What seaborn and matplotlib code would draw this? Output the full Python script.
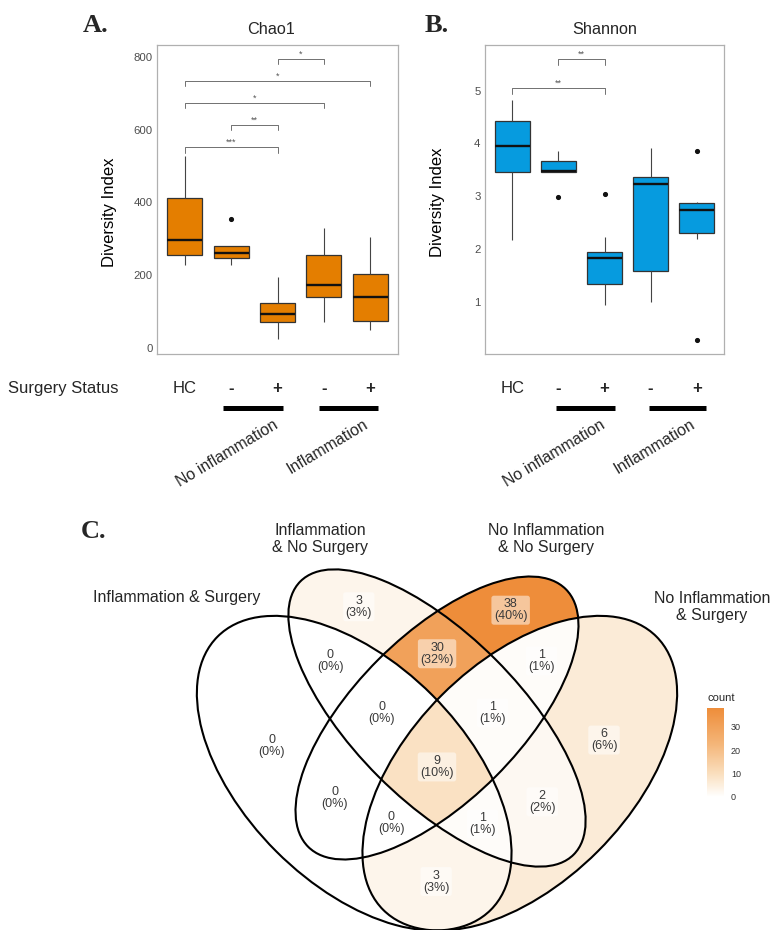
import numpy as np
import pandas as pd
import seaborn as sns
import matplotlib
matplotlib.use("Agg")
import matplotlib.pyplot as plt
from matplotlib import transforms
from matplotlib.patches import Ellipse
from matplotlib.colors import LinearSegmentedColormap, Normalize

sns.set_theme(style="white")
plt.rcParams['font.family'] = ['Liberation Sans', 'DejaVu Sans']

"""
Data
"""
groups = ["HC", "NoInf_NoSurg", "NoInf_Surg", "Inf_NoSurg", "Inf_Surg"]
surgery_labels = ["HC", "-", "+", "-", "+"]
status_labels = ["No inflammation", "Inflammation"]

chao1_hc = [228, 245, 256, 280, 297, 350, 413, 470, 527]
chao1_noinf_nosurg = [228, 240, 247, 255, 261, 270, 282, 282, 356]
chao1_noinf_surg = [25, 60, 73, 85, 93, 110, 124, 160, 196]
chao1_inf_nosurg = [72, 120, 142, 160, 173, 220, 255, 300, 331]
chao1_inf_surg = [50, 65, 75, 110, 142, 180, 205, 260, 306]

shannon_hc = [2.17, 3.2, 3.45, 3.7, 3.96, 4.2, 4.42, 4.6, 4.82]
shannon_noinf_nosurg = [2.99, 3.46, 3.46, 3.47, 3.48, 3.6, 3.67, 3.75, 3.85]
shannon_noinf_surg = [0.94, 1.2, 1.34, 1.6, 1.82, 1.9, 1.94, 2.22, 3.05]
shannon_inf_nosurg = [1.0, 1.3, 1.58, 2.5, 3.23, 3.3, 3.37, 3.6, 3.91]
shannon_inf_surg = [0.27, 2.18, 2.31, 2.5, 2.74, 2.8, 2.87, 2.89, 3.86]

# significance brackets: group pairs, stars, bracket height
chao1_pairs = [(0, 2), (1, 2), (0, 3), (0, 4), (2, 3)]
chao1_stars = ["***", "**", "*", "*", "*"]
chao1_bracket_y = [552, 613, 673, 734, 794]
shannon_pairs = [(0, 2), (1, 2)]
shannon_stars = ["**", "**"]
shannon_bracket_y = [5.05, 5.6]

# venn
set_names = ["Inflammation & Surgery", "Inflammation\n& No Surgery",
             "No Inflammation\n& No Surgery", "No Inflammation\n& Surgery"]
region_sets = ["A", "B", "C", "D", "AB", "AC", "AD", "BC", "BD", "CD",
               "ABC", "ABD", "ACD", "BCD", "ABCD"]
region_counts = [0, 3, 38, 6, 0, 0, 3, 30, 2, 1, 0, 1, 0, 1, 9]

"""
Layout helpers (figure is 773 x 930 px)
"""
W, H = 773, 930
ORANGE = "#E47E00"
BLUE = "#069BDF"


def fx(px):
    return px / W


def fy(py):
    return 1 - py / H


fig = plt.figure(figsize=(W / 100, H / 100), dpi=100)
fig.patch.set_facecolor("white")


def box_panel(rect, values, color, ylim, yticks, title, title_x, pairs, stars, bracket_y, tip, ylabel_x, ylabel_y):
    ax = fig.add_axes(rect)
    df = pd.DataFrame({
        "group": np.repeat(groups, [len(v) for v in values]),
        "value": np.concatenate(values),
    })
    sns.boxplot(data=df, x="group", y="value", order=groups, color=color, saturation=1,
                width=0.75, linecolor="#333333", linewidth=0.9, whis=1.5, showcaps=False,
                medianprops=dict(color="#111111", linewidth=1.7),
                whiskerprops=dict(color="#444444", linewidth=0.8),
                flierprops=dict(marker="o", markerfacecolor="#111111", markeredgecolor="#111111",
                                markersize=2.7),
                ax=ax)
    ax.set_xlim(-0.6, 4.6)
    ax.set_ylim(*ylim)
    ax.set_yticks(yticks)
    ax.set_xticks([])
    ax.set_xlabel("")
    ax.set_ylabel("Diversity Index", fontsize=12, color="black")
    ax.yaxis.set_label_coords(ylabel_x, ylabel_y)
    ax.tick_params(axis="y", length=0, pad=3, labelsize=8.2, labelcolor="#4D4D4D")
    ax.grid(False)
    for s in ax.spines.values():
        s.set_color("#B0B0B0")
        s.set_linewidth(0.9)
    for (i, j), star, yb in zip(pairs, stars, bracket_y):
        ax.plot([i, i, j, j], [yb - tip, yb, yb, yb - tip], color="#707070", lw=0.7)
        ax.text((i + j) / 2, yb, star, ha="center", va="bottom", fontsize=6.5, color="#555555")
    fig.text(fx(title_x), fy(29), title, ha="center", va="center", fontsize=11.7)
    return ax


def group_annotations(ax, bar_spans):
    trans = transforms.blended_transform_factory(ax.transData, fig.transFigure)
    for i, lab in enumerate(surgery_labels):
        ax.text(i, fy(388), lab, transform=trans, ha="center", va="center", fontsize=12,
                fontweight="normal" if lab == "HC" else "bold", clip_on=False)
    for (x0, x1) in bar_spans:
        ax.plot([x0, x1], [fy(408), fy(408)], transform=trans, color="black", lw=3.6,
                solid_capstyle="butt", clip_on=False)
    for x, lab in zip([1.9, 3.85], status_labels):
        ax.text(x, fy(417), lab, transform=trans, rotation=31, rotation_mode="anchor",
                ha="right", va="top", fontsize=11.5, clip_on=False)


ax_a = box_panel([fx(157), fy(354), 241 / W, 309 / H],
                 [chao1_hc, chao1_noinf_nosurg, chao1_noinf_surg, chao1_inf_nosurg, chao1_inf_surg],
                 ORANGE, (-15.6, 832), [0, 200, 400, 600, 800], "Chao1", 271,
                 chao1_pairs, chao1_stars, chao1_bracket_y, 15, -0.166, 0.46)
ax_b = box_panel([fx(484.7), fy(354), 239.6 / W, 309 / H],
                 [shannon_hc, shannon_noinf_nosurg, shannon_noinf_surg, shannon_inf_nosurg, shannon_inf_surg],
                 BLUE, (0.0085, 5.866), [1, 2, 3, 4, 5], "Shannon", 605,
                 shannon_pairs, shannon_stars, shannon_bracket_y, 0.11, -0.165, 0.49)

group_annotations(ax_a, [(0.82, 2.12), (2.9, 4.17)])
group_annotations(ax_b, [(0.95, 2.23), (2.96, 4.21)])
fig.text(fx(8), fy(388), "Surgery Status", ha="left", va="center", fontsize=12)

for lab, (px, py) in zip(["A.", "B.", "C."], [(96, 25), (437, 25), (94, 532)]):
    fig.text(fx(px), fy(py), lab, ha="center", va="center", fontsize=19, fontweight="bold",
             family="Liberation Serif")

"""
Venn diagram (ellipse shapes as in ggVennDiagram 4d)
"""
ellipse_params = [(0.35, 0.47, 0.35, 0.20, 135), (0.50, 0.57, 0.35, 0.15, 135),
                  (0.50, 0.57, 0.33, 0.15, 45), (0.65, 0.47, 0.35, 0.20, 45)]
scale = 552.0  # px per unit
vx0, vx1 = 0.5 + (150 - 437) / scale, 0.5 + (700 - 437) / scale
vy0, vy1 = 0.57 - (930 - 718) / scale, 0.57 + (718 - 560) / scale
ax_c = fig.add_axes([fx(150), fy(930), 550 / W, 370 / H])

xs = np.linspace(vx0, vx1, 1400)
ys = np.linspace(vy0, vy1, 940)
X, Y = np.meshgrid(xs, ys)
code = np.zeros(X.shape, dtype=int)
for k, (cx, cy, a, b, rot) in enumerate(ellipse_params):
    t = np.deg2rad(rot)
    dx, dy = X - cx, Y - cy
    u = dx * np.cos(t) + dy * np.sin(t)
    v = -dx * np.sin(t) + dy * np.cos(t)
    code |= (((u / a) ** 2 + (v / b) ** 2) <= 1).astype(int) << k

bits = {"A": 1, "B": 2, "C": 4, "D": 8}
count_grid = np.full(X.shape, np.nan)
total = sum(region_counts)
cmap = LinearSegmentedColormap.from_list(
    "venn", [(0, "#FFFFFF"), (0.25, "#FAE0C0"), (0.6, "#F4B578"), (1, "#EE8D3A")])
norm = Normalize(0, max(region_counts))
centroids = []
for key, cnt in zip(region_sets, region_counts):
    mask = code == sum(bits[c] for c in key)
    count_grid[mask] = cnt
    centroids.append((X[mask].mean(), Y[mask].mean()))

im = ax_c.imshow(np.ma.masked_invalid(count_grid), cmap=cmap, norm=norm, origin="lower",
                 extent=(vx0, vx1, vy0, vy1), aspect="auto", interpolation="nearest", zorder=0)
for cx, cy, a, b, rot in ellipse_params:
    ax_c.add_patch(Ellipse((cx, cy), 2 * a, 2 * b, angle=rot, fill=False, ec="black", lw=1.5, zorder=2))
for (cx, cy), cnt in zip(centroids, region_counts):
    ax_c.text(cx, cy, f"{cnt}\n({round(cnt / total * 100)}%)", ha="center", va="center",
              fontsize=9, color="#3A3A3A", linespacing=1.0, zorder=3,
              bbox=dict(boxstyle="round,pad=0.2", fc="white", ec="none", alpha=0.5))
ax_c.set_xlim(vx0, vx1)
ax_c.set_ylim(vy0, vy1)
ax_c.axis("off")

for name, (px, py) in zip(set_names, [(176.5, 597), (320, 539), (546, 539), (712, 607)]):
    fig.text(fx(px), fy(py), name, ha="center", va="center", fontsize=11.5, multialignment="center")

cax = fig.add_axes([fx(707), fy(797), 17 / W, 89 / H])
cb = fig.colorbar(im, cax=cax, ticks=[0, 10, 20, 30])
cb.outline.set_visible(False)
cax.tick_params(direction="in", length=3, width=0.8, color="white", labelsize=6.5,
                labelcolor="#333333", pad=5)
fig.text(fx(707), fy(698), "count", ha="left", va="center", fontsize=8)

fig.savefig("out.png", dpi=100)
